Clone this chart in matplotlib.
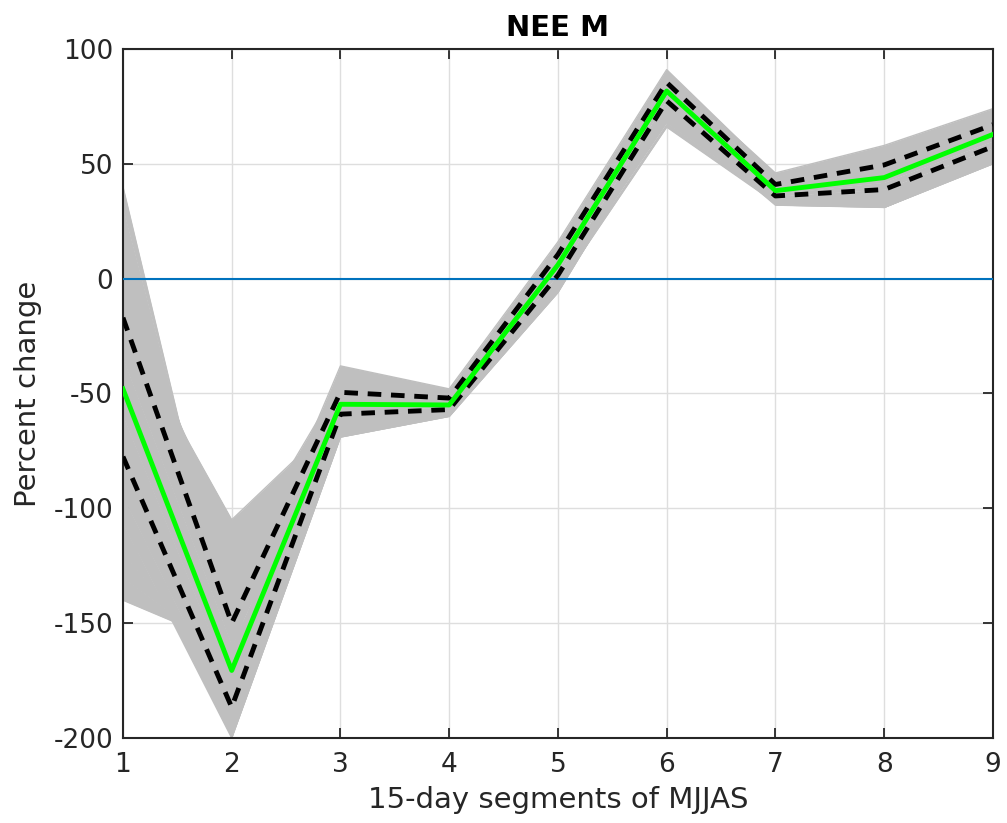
import matplotlib
matplotlib.use('Agg')
import matplotlib.pyplot as plt
import numpy as np

plt.rcParams['font.family'] = ['DejaVu Sans']
plt.rcParams['axes.unicode_minus'] = False

# 15-day segments
segments = [1, 2, 3, 4, 5, 6, 7, 8, 9]

# ensemble members (gray lines)
members = [
    [40, -158, -62, -52, 8, 84, 40, 45, 62],
    [30, -150, -55, -50, 12, 88, 42, 50, 66],
    [-20, -105, -60, -53, 10, 86, 41, 48, 65],
    [-10, -112, -58, -51, 14, 90, 44, 52, 70],
    [-20, -150, -38, -48, 16, 91, 45, 55, 72],
    [-10, -130, -46, -49, 12, 89, 46, 58, 74],
    [5, -125, -45, -50, 11, 87, 43, 53, 69],
    [-20, -150, -50, -52, 10, 85, 41, 49, 67],
    [-35, -160, -52, -54, 8, 84, 40, 46, 64],
    [-48, -170, -55, -55, 6, 82, 38, 44, 62],
    [-60, -178, -57, -56, 4, 80, 37, 42, 60],
    [-78, -187, -59, -57, 2, 78, 36, 39, 57],
    [-95, -192, -67, -57, -3, 70, 34, 34, 53],
    [-107, -200, -69, -60, -6, 72, 32, 31, 51],
    [-120, -175, -62, -56, 0, 75, 35, 36, 55],
    [-130, -165, -64, -59, -2, 68, 35, 31, 50],
    [-140, -160, -66, -58, -4, 66, 33, 33, 52],
]

ens_mean = [-48, -170.6, -54.7, -55, 6, 81.7, 38.3, 44, 62.8]
upper_pct = [-17, -150, -49.5, -52, 10.5, 85.4, 41, 49.5, 67]
lower_pct = [-77.5, -186.6, -59, -57, 1.5, 77.4, 36, 38.8, 57.5]

gray = '#bfbfbf'

fig = plt.figure(figsize=(10.07, 8.23), dpi=100)
ax = fig.add_axes([0.1221, 0.1033, 0.8639, 0.8372])

# band: filling between consecutive members covers the whole ensemble
for i in range(len(members) - 1):
    ax.fill_between(segments, members[i], members[i + 1], color=gray, lw=0, zorder=2)
for m in members:
    ax.plot(segments, m, color=gray, lw=1, zorder=2)

ax.axhline(0, color='#0072bd', lw=1.5, zorder=3)

ax.plot(segments, upper_pct, color='k', lw=3.5, ls=(0, (2.8, 2.0)), zorder=4)
ax.plot(segments, lower_pct, color='k', lw=3.5, ls=(0, (2.8, 2.0)), zorder=4)
ax.plot(segments, ens_mean, color='#00ff00', lw=3.5, zorder=5)

ax.set_xlim(1, 9)
ax.set_ylim(-200, 100)
ax.set_xticks(segments)
ax.set_yticks([-200, -150, -100, -50, 0, 50, 100])
ax.grid(True, color='#dedede', lw=1)
ax.set_axisbelow(True)

ax.tick_params(direction='in', length=7, width=1.3, top=True, right=True,
               labelsize=19, colors='#262626', pad=7)
ax.tick_params(axis='x', pad=10)
for s in ax.spines.values():
    s.set_linewidth(1.5)
    s.set_color('#262626')

ax.set_title('NEE M', fontsize=21, fontweight='bold', pad=9)
ax.set_xlabel('15-day segments of MJJAS', fontsize=21, color='#262626', labelpad=6)
ax.set_ylabel('Percent change', fontsize=21, color='#262626', labelpad=8)

fig.savefig('out.png', dpi=100)
